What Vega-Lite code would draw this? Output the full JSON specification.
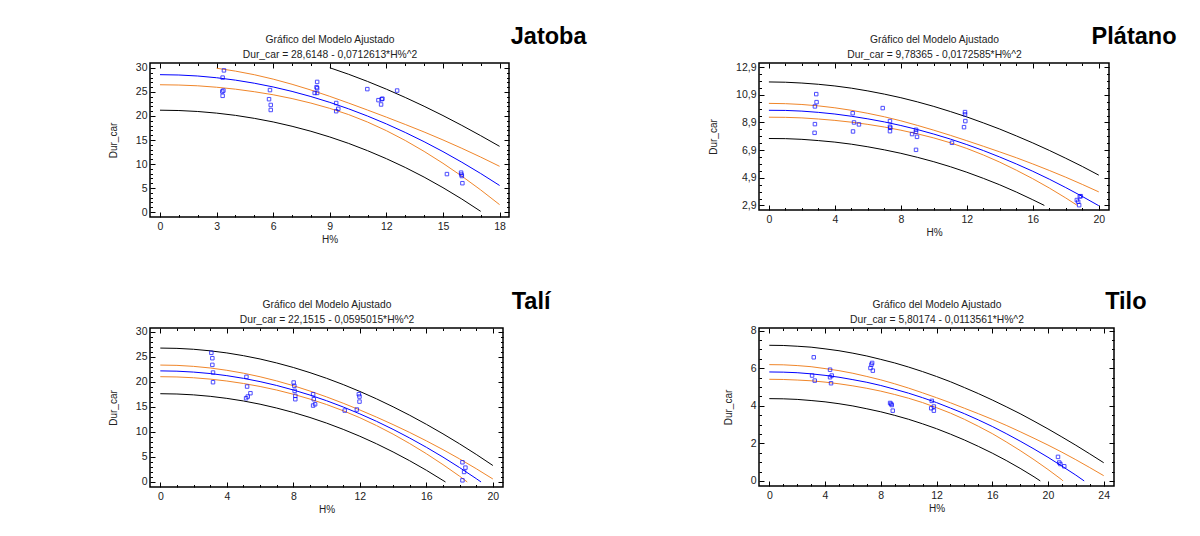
{
  "$schema": "https://vega.github.io/schema/vega-lite/v6.json",
  "background": "white",
  "padding": {"left": 107, "top": 24, "right": 0, "bottom": 0},
  "columns": 2,
  "bounds": "flush",
  "align": "each",
  "spacing": {"row": 111, "column": 250},
  "config": {
    "font": "Liberation Sans",
    "view": {"stroke": "#000", "strokeWidth": 1.5},
    "axis": {"domain": false, "grid": false, "labelFont": "Liberation Sans", "labelFontSize": 10.5, "labelColor": "#222", "titleFont": "Liberation Sans", "titleFontSize": 10, "titleFontWeight": "normal", "titleColor": "#222", "tickColor": "#000", "tickWidth": 1},
    "axisBottom": {"labelPadding": 9, "titlePadding": 3},
    "axisLeft": {"labelPadding": 8, "titlePadding": 17},
    "axisTop": {"labels": false, "titlePadding": 3, "titleFontSize": 10.3, "titleLineHeight": 15},
    "axisRight": {"labels": false, "title": null},
    "title": {"font": "Liberation Sans", "color": "#000", "fontSize": 23.5, "fontWeight": "bold", "anchor": "end", "baseline": "alphabetic", "offset": 0},
    "line": {"strokeWidth": 1, "clip": true},
    "point": {"shape": "square", "filled": false, "size": 12, "strokeWidth": 1, "color": "#0000ff"}
  },
  "datasets": {
    "jatoba_lines": [
      {"x": 0, "fit": 28.61, "cl": 26.51, "pl": 21.21},
      {"x": 1, "fit": 28.54, "cl": 26.45, "pl": 21.14},
      {"x": 2, "fit": 28.33, "cl": 26.29, "pl": 20.94},
      {"x": 3, "fit": 27.97, "cu": 29.95, "cl": 25.99, "pl": 20.6},
      {"x": 4, "fit": 27.47, "cu": 29.35, "cl": 25.59, "pl": 20.13},
      {"x": 5, "fit": 26.83, "cu": 28.6, "cl": 25.06, "pl": 19.51},
      {"x": 6, "fit": 26.05, "cu": 27.68, "cl": 24.42, "pl": 18.76},
      {"x": 7, "fit": 25.12, "cu": 26.61, "cl": 23.63, "pl": 17.86},
      {"x": 8, "fit": 24.05, "cu": 25.41, "cl": 22.69, "pl": 16.82},
      {"x": 9, "fit": 22.84, "cu": 24.09, "cl": 21.59, "pu": 30.05, "pl": 15.63},
      {"x": 10, "fit": 21.49, "cu": 22.69, "cl": 20.29, "pu": 28.69, "pl": 14.29},
      {"x": 11, "fit": 19.99, "cu": 21.24, "cl": 18.74, "pu": 27.2, "pl": 12.78},
      {"x": 12, "fit": 18.35, "cu": 19.76, "cl": 16.94, "pu": 25.59, "pl": 11.11},
      {"x": 13, "fit": 16.57, "cu": 18.24, "cl": 14.9, "pu": 23.86, "pl": 9.28},
      {"x": 14, "fit": 14.65, "cu": 16.67, "cl": 12.63, "pu": 22.03, "pl": 7.27},
      {"x": 15, "fit": 12.58, "cu": 15.01, "cl": 10.15, "pu": 20.09, "pl": 5.07},
      {"x": 16, "fit": 10.37, "cu": 13.27, "cl": 7.47, "pu": 18.04, "pl": 2.7},
      {"x": 17, "fit": 8.02, "cu": 11.44, "cl": 4.6, "pu": 15.9, "pl": 0.14},
      {"x": 18, "fit": 5.53, "cu": 9.52, "cl": 1.54, "pu": 13.68}
    ],
    "jatoba_pts": [
      {"x": 3.39, "y": 29.5}, {"x": 3.32, "y": 28.0}, {"x": 3.3, "y": 25.1}, {"x": 3.36, "y": 25.3}, {"x": 3.32, "y": 24.2},
      {"x": 5.83, "y": 25.4}, {"x": 5.78, "y": 23.5}, {"x": 5.87, "y": 22.3}, {"x": 5.87, "y": 21.25},
      {"x": 8.33, "y": 27.1}, {"x": 8.3, "y": 26.0}, {"x": 8.33, "y": 25.8}, {"x": 8.2, "y": 24.8}, {"x": 8.33, "y": 24.8},
      {"x": 9.34, "y": 22.7}, {"x": 9.34, "y": 21.0}, {"x": 9.45, "y": 21.5},
      {"x": 10.99, "y": 25.6}, {"x": 11.58, "y": 23.3}, {"x": 11.72, "y": 22.4}, {"x": 11.79, "y": 23.6}, {"x": 11.75, "y": 23.5},
      {"x": 12.57, "y": 25.3},
      {"x": 15.21, "y": 7.9}, {"x": 15.96, "y": 8.2}, {"x": 16.0, "y": 7.5}, {"x": 15.98, "y": 7.8}, {"x": 16.03, "y": 6.0}
    ],
    "platano_lines": [
      {"x": 0, "fit": 9.78, "cu": 10.28, "cl": 9.28, "pu": 11.83, "pl": 7.74},
      {"x": 1, "fit": 9.77, "cu": 10.26, "cl": 9.27, "pu": 11.81, "pl": 7.73},
      {"x": 2, "fit": 9.72, "cu": 10.2, "cl": 9.23, "pu": 11.75, "pl": 7.68},
      {"x": 3, "fit": 9.63, "cu": 10.1, "cl": 9.15, "pu": 11.66, "pl": 7.59},
      {"x": 4, "fit": 9.51, "cu": 9.96, "cl": 9.05, "pu": 11.54, "pl": 7.48},
      {"x": 5, "fit": 9.35, "cu": 9.78, "cl": 8.92, "pu": 11.38, "pl": 7.33},
      {"x": 6, "fit": 9.16, "cu": 9.56, "cl": 8.76, "pu": 11.18, "pl": 7.14},
      {"x": 7, "fit": 8.94, "cu": 9.31, "cl": 8.57, "pu": 10.95, "pl": 6.92},
      {"x": 8, "fit": 8.68, "cu": 9.02, "cl": 8.34, "pu": 10.69, "pl": 6.67},
      {"x": 9, "fit": 8.39, "cu": 8.69, "cl": 8.08, "pu": 10.39, "pl": 6.38},
      {"x": 10, "fit": 8.06, "cu": 8.34, "cl": 7.78, "pu": 10.06, "pl": 6.06},
      {"x": 11, "fit": 7.7, "cu": 7.97, "cl": 7.43, "pu": 9.69, "pl": 5.7},
      {"x": 12, "fit": 7.3, "cu": 7.58, "cl": 7.02, "pu": 9.3, "pl": 5.3},
      {"x": 13, "fit": 6.87, "cu": 7.18, "cl": 6.55, "pu": 8.87, "pl": 4.86},
      {"x": 14, "fit": 6.4, "cu": 6.77, "cl": 6.03, "pu": 8.42, "pl": 4.39},
      {"x": 15, "fit": 5.9, "cu": 6.35, "cl": 5.45, "pu": 7.93, "pl": 3.87},
      {"x": 16, "fit": 5.37, "cu": 5.9, "cl": 4.83, "pu": 7.42, "pl": 3.31},
      {"x": 16.7, "pl": 2.9},
      {"x": 17, "fit": 4.8, "cu": 5.43, "cl": 4.16, "pu": 6.88},
      {"x": 18, "fit": 4.19, "cu": 4.94, "cl": 3.44, "pu": 6.31},
      {"x": 18.7, "cl": 2.9},
      {"x": 19, "fit": 3.55, "cu": 4.42, "pu": 5.72},
      {"x": 20, "fit": 2.88, "cu": 3.88, "pu": 5.09}
    ],
    "platano_pts": [
      {"x": 2.87, "y": 10.95}, {"x": 2.89, "y": 10.37}, {"x": 2.79, "y": 10.06}, {"x": 2.79, "y": 8.78}, {"x": 2.77, "y": 8.15},
      {"x": 5.08, "y": 9.57}, {"x": 5.16, "y": 8.9}, {"x": 5.46, "y": 8.76}, {"x": 5.1, "y": 8.25},
      {"x": 6.9, "y": 9.94}, {"x": 7.34, "y": 9.0}, {"x": 7.34, "y": 8.59}, {"x": 7.36, "y": 8.51}, {"x": 7.34, "y": 8.27},
      {"x": 8.68, "y": 8.06}, {"x": 8.92, "y": 8.37}, {"x": 8.92, "y": 8.22}, {"x": 8.98, "y": 7.86}, {"x": 8.92, "y": 6.92},
      {"x": 11.1, "y": 7.43}, {"x": 11.89, "y": 9.65}, {"x": 11.89, "y": 9.48}, {"x": 11.91, "y": 9.0}, {"x": 11.83, "y": 8.56},
      {"x": 18.67, "y": 3.29}, {"x": 18.75, "y": 3.17}, {"x": 18.81, "y": 2.92}, {"x": 18.85, "y": 3.55}, {"x": 18.91, "y": 3.57}
    ],
    "tali_lines": [
      {"x": 0, "fit": 22.15, "cu": 23.31, "cl": 20.99, "pu": 26.7, "pl": 17.6},
      {"x": 1, "fit": 22.09, "cu": 23.25, "cl": 20.94, "pu": 26.64, "pl": 17.54},
      {"x": 2, "fit": 21.91, "cu": 23.05, "cl": 20.78, "pu": 26.46, "pl": 17.37},
      {"x": 3, "fit": 21.62, "cu": 22.73, "cl": 20.51, "pu": 26.15, "pl": 17.08},
      {"x": 4, "fit": 21.2, "cu": 22.27, "cl": 20.13, "pu": 25.73, "pl": 16.67},
      {"x": 5, "fit": 20.66, "cu": 21.69, "cl": 19.64, "pu": 25.18, "pl": 16.15},
      {"x": 6, "fit": 20.01, "cu": 20.98, "cl": 19.04, "pu": 24.52, "pl": 15.51},
      {"x": 7, "fit": 19.24, "cu": 20.15, "cl": 18.33, "pu": 23.73, "pl": 14.74},
      {"x": 8, "fit": 18.34, "cu": 19.2, "cl": 17.49, "pu": 22.83, "pl": 13.86},
      {"x": 9, "fit": 17.33, "cu": 18.13, "cl": 16.53, "pu": 21.8, "pl": 12.86},
      {"x": 10, "fit": 16.2, "cu": 16.96, "cl": 15.44, "pu": 20.67, "pl": 11.74},
      {"x": 11, "fit": 14.95, "cu": 15.7, "cl": 14.2, "pu": 19.42, "pl": 10.49},
      {"x": 12, "fit": 13.58, "cu": 14.36, "cl": 12.81, "pu": 18.05, "pl": 9.12},
      {"x": 13, "fit": 12.1, "cu": 12.94, "cl": 11.25, "pu": 16.58, "pl": 7.62},
      {"x": 14, "fit": 10.49, "cu": 11.44, "cl": 9.54, "pu": 14.99, "pl": 5.99},
      {"x": 15, "fit": 8.76, "cu": 9.87, "cl": 7.66, "pu": 13.3, "pl": 4.23},
      {"x": 16, "fit": 6.92, "cu": 8.2, "cl": 5.64, "pu": 11.5, "pl": 2.34},
      {"x": 17, "fit": 4.96, "cu": 6.45, "cl": 3.46, "pu": 9.6, "pl": 0.31},
      {"x": 17.15, "pl": 0},
      {"x": 18, "fit": 2.87, "cu": 4.6, "cl": 1.15, "pu": 7.6},
      {"x": 18.46, "cl": 0},
      {"x": 19, "fit": 0.67, "cu": 2.65, "pu": 5.5},
      {"x": 19.29, "fit": 0},
      {"x": 20, "cu": 0.6, "pu": 3.29}
    ],
    "tali_pts": [
      {"x": 3.07, "y": 25.75}, {"x": 3.13, "y": 24.68}, {"x": 3.13, "y": 23.35}, {"x": 3.17, "y": 21.82}, {"x": 3.17, "y": 19.89},
      {"x": 5.18, "y": 20.96}, {"x": 5.22, "y": 19.03}, {"x": 5.16, "y": 16.7}, {"x": 5.26, "y": 17.03}, {"x": 5.42, "y": 17.7},
      {"x": 8.02, "y": 19.83}, {"x": 8.06, "y": 19.16}, {"x": 8.08, "y": 18.16}, {"x": 8.12, "y": 17.17}, {"x": 8.12, "y": 16.5},
      {"x": 9.19, "y": 17.5}, {"x": 9.23, "y": 16.5}, {"x": 9.19, "y": 15.24}, {"x": 9.31, "y": 15.5},
      {"x": 11.09, "y": 14.24}, {"x": 11.82, "y": 14.44}, {"x": 11.94, "y": 17.5}, {"x": 11.98, "y": 17.03}, {"x": 11.98, "y": 16.03},
      {"x": 18.17, "y": 3.93}, {"x": 18.35, "y": 2.86}, {"x": 18.27, "y": 2.0}, {"x": 18.17, "y": 0.33}
    ],
    "tilo_lines": [
      {"x": 0, "fit": 5.8, "cu": 6.19, "cl": 5.41, "pu": 7.22, "pl": 4.38},
      {"x": 1, "fit": 5.79, "cu": 6.18, "cl": 5.4, "pu": 7.21, "pl": 4.37},
      {"x": 2, "fit": 5.76, "cu": 6.14, "cl": 5.37, "pu": 7.17, "pl": 4.34},
      {"x": 3, "fit": 5.7, "cu": 6.08, "cl": 5.33, "pu": 7.12, "pl": 4.28},
      {"x": 4, "fit": 5.62, "cu": 5.98, "cl": 5.26, "pu": 7.03, "pl": 4.21},
      {"x": 5, "fit": 5.52, "cu": 5.87, "cl": 5.17, "pu": 6.93, "pl": 4.11},
      {"x": 6, "fit": 5.39, "cu": 5.73, "cl": 5.06, "pu": 6.8, "pl": 3.99},
      {"x": 7, "fit": 5.25, "cu": 5.56, "cl": 4.93, "pu": 6.65, "pl": 3.84},
      {"x": 8, "fit": 5.08, "cu": 5.38, "cl": 4.78, "pu": 6.47, "pl": 3.68},
      {"x": 9, "fit": 4.88, "cu": 5.17, "cl": 4.6, "pu": 6.28, "pl": 3.49},
      {"x": 10, "fit": 4.67, "cu": 4.94, "cl": 4.4, "pu": 6.06, "pl": 3.28},
      {"x": 11, "fit": 4.43, "cu": 4.69, "cl": 4.17, "pu": 5.82, "pl": 3.04},
      {"x": 12, "fit": 4.17, "cu": 4.43, "cl": 3.9, "pu": 5.56, "pl": 2.78},
      {"x": 13, "fit": 3.88, "cu": 4.16, "cl": 3.61, "pu": 5.28, "pl": 2.49},
      {"x": 14, "fit": 3.58, "cu": 3.87, "cl": 3.28, "pu": 4.97, "pl": 2.18},
      {"x": 15, "fit": 3.25, "cu": 3.58, "cl": 2.91, "pu": 4.65, "pl": 1.84},
      {"x": 16, "fit": 2.9, "cu": 3.28, "cl": 2.52, "pu": 4.31, "pl": 1.48},
      {"x": 17, "fit": 2.52, "cu": 2.96, "cl": 2.08, "pu": 3.95, "pl": 1.09},
      {"x": 18, "fit": 2.12, "cu": 2.62, "cl": 1.62, "pu": 3.58, "pl": 0.67},
      {"x": 19, "fit": 1.7, "cu": 2.27, "cl": 1.13, "pu": 3.18, "pl": 0.22},
      {"x": 19.45, "pl": 0},
      {"x": 20, "fit": 1.26, "cu": 1.91, "cl": 0.61, "pu": 2.77},
      {"x": 21, "fit": 0.79, "cu": 1.53, "cl": 0.06, "pu": 2.34},
      {"x": 21.08, "cl": 0},
      {"x": 22, "fit": 0.31, "cu": 1.13, "pu": 1.9},
      {"x": 22.6, "fit": 0},
      {"x": 23, "cu": 0.71, "pu": 1.44},
      {"x": 24, "cu": 0.28, "pu": 0.97}
    ],
    "tilo_pts": [
      {"x": 3.19, "y": 6.58}, {"x": 3.07, "y": 5.61}, {"x": 3.26, "y": 5.34},
      {"x": 4.36, "y": 5.92}, {"x": 4.36, "y": 5.52}, {"x": 4.48, "y": 5.61}, {"x": 4.43, "y": 5.2},
      {"x": 7.38, "y": 6.28}, {"x": 7.33, "y": 6.19}, {"x": 7.26, "y": 6.01}, {"x": 7.43, "y": 5.87},
      {"x": 8.67, "y": 4.15}, {"x": 8.79, "y": 4.04}, {"x": 8.74, "y": 4.1}, {"x": 8.86, "y": 3.74},
      {"x": 11.66, "y": 4.26}, {"x": 11.62, "y": 3.87}, {"x": 11.81, "y": 3.96}, {"x": 11.81, "y": 3.74},
      {"x": 20.72, "y": 1.28}, {"x": 20.81, "y": 0.98}, {"x": 20.89, "y": 0.9}, {"x": 21.17, "y": 0.78}
    ]
  },
  "concat": [
    {
      "width": 359, "height": 154,
      "title": {"text": "Jatoba", "dx": 77, "dy": 18},
      "resolve": {"axis": {"x": "independent", "y": "independent"}},
      "layer": [
        {
          "data": {"name": "jatoba_lines"},
          "transform": [{"fold": ["pu", "cu", "fit", "cl", "pl"], "as": ["serie", "v"]}, {"filter": "isValid(datum.v)"}],
          "mark": "line",
          "encoding": {
            "x": {"field": "x", "type": "quantitative", "scale": {"domain": [-0.53, 18.5], "nice": false, "zero": false},
              "axis": {"orient": "bottom", "title": "H%", "values": [0,1,2,3,4,5,6,7,8,9,10,11,12,13,14,15,16,17,18],
                "tickSize": {"condition": {"test": "datum.value % 3 === 0", "value": -5}, "value": -2.5},
                "labelExpr": "datum.value % 3 === 0 ? format(datum.value, 'd') : ''"}},
            "y": {"field": "v", "type": "quantitative", "scale": {"domain": [-1.04, 31.04], "nice": false, "zero": false},
              "axis": {"orient": "left", "title": "Dur_car", "values": [0,1,2,3,4,5,6,7,8,9,10,11,12,13,14,15,16,17,18,19,20,21,22,23,24,25,26,27,28,29,30],
                "tickSize": {"condition": {"test": "datum.value % 5 === 0", "value": -5}, "value": -2.5},
                "labelExpr": "datum.value % 5 === 0 ? format(datum.value, 'd') : ''"}},
            "color": {"field": "serie", "type": "nominal", "legend": null,
              "scale": {"domain": ["fit", "cu", "cl", "pu", "pl"], "range": ["#0000ff", "#f0862a", "#f0862a", "#000000", "#000000"]}}
          }
        },
        {
          "data": {"name": "jatoba_pts"},
          "mark": "point",
          "encoding": {
            "x": {"field": "x", "type": "quantitative", "scale": {"domain": [-0.53, 18.5], "nice": false, "zero": false},
              "axis": {"orient": "top", "title": ["Gráfico del Modelo Ajustado", "Dur_car = 28,6148 - 0,0712613*H%^2"], "values": [0,1,2,3,4,5,6,7,8,9,10,11,12,13,14,15,16,17,18],
                "tickSize": {"condition": {"test": "datum.value % 3 === 0", "value": -5}, "value": -2.5}}},
            "y": {"field": "y", "type": "quantitative", "scale": {"domain": [-1.04, 31.04], "nice": false, "zero": false},
              "axis": {"orient": "right", "values": [0,1,2,3,4,5,6,7,8,9,10,11,12,13,14,15,16,17,18,19,20,21,22,23,24,25,26,27,28,29,30],
                "tickSize": {"condition": {"test": "datum.value % 5 === 0", "value": -5}, "value": -2.5}}}
          }
        }
      ]
    },
    {
      "width": 350, "height": 147,
      "title": {"text": "Plátano", "dx": 67, "dy": 18},
      "resolve": {"axis": {"x": "independent", "y": "independent"}},
      "layer": [
        {
          "data": {"name": "platano_lines"},
          "transform": [{"fold": ["pu", "cu", "fit", "cl", "pl"], "as": ["serie", "v"]}, {"filter": "isValid(datum.v)"}],
          "mark": "line",
          "encoding": {
            "x": {"field": "x", "type": "quantitative", "scale": {"domain": [-0.6, 20.62], "nice": false, "zero": false},
              "axis": {"orient": "bottom", "title": "H%", "values": [0,1,2,3,4,5,6,7,8,9,10,11,12,13,14,15,16,17,18,19,20],
                "tickSize": {"condition": {"test": "datum.value % 4 === 0", "value": -5}, "value": -2.5},
                "labelExpr": "datum.value % 4 === 0 ? format(datum.value, 'd') : ''"}},
            "y": {"field": "v", "type": "quantitative", "scale": {"domain": [2.57, 13.2], "nice": false, "zero": false},
              "axis": {"orient": "left", "title": "Dur_car", "values": [2.9,3.4,3.9,4.4,4.9,5.4,5.9,6.4,6.9,7.4,7.9,8.4,8.9,9.4,9.9,10.4,10.9,11.4,11.9,12.4,12.9],
                "tickSize": {"condition": {"test": "abs((datum.value - 2.9) / 2 - round((datum.value - 2.9) / 2)) < 0.01", "value": -5}, "value": -2.5},
                "labelExpr": "abs((datum.value - 2.9) / 2 - round((datum.value - 2.9) / 2)) < 0.01 ? replace(format(datum.value, '.1f'), '.', ',') : ''"}},
            "color": {"field": "serie", "type": "nominal", "legend": null,
              "scale": {"domain": ["fit", "cu", "cl", "pu", "pl"], "range": ["#0000ff", "#f0862a", "#f0862a", "#000000", "#000000"]}}
          }
        },
        {
          "data": {"name": "platano_pts"},
          "mark": "point",
          "encoding": {
            "x": {"field": "x", "type": "quantitative", "scale": {"domain": [-0.6, 20.62], "nice": false, "zero": false},
              "axis": {"orient": "top", "title": ["Gráfico del Modelo Ajustado", "Dur_car = 9,78365 - 0,0172585*H%^2"], "values": [0,1,2,3,4,5,6,7,8,9,10,11,12,13,14,15,16,17,18,19,20],
                "tickSize": {"condition": {"test": "datum.value % 4 === 0", "value": -5}, "value": -2.5}}},
            "y": {"field": "y", "type": "quantitative", "scale": {"domain": [2.57, 13.2], "nice": false, "zero": false},
              "axis": {"orient": "right", "values": [2.9,3.4,3.9,4.4,4.9,5.4,5.9,6.4,6.9,7.4,7.9,8.4,8.9,9.4,9.9,10.4,10.9,11.4,11.9,12.4,12.9],
                "tickSize": {"condition": {"test": "abs((datum.value - 2.9) / 2 - round((datum.value - 2.9) / 2)) < 0.01", "value": -5}, "value": -2.5}}}
          }
        }
      ]
    },
    {
      "width": 353, "height": 159,
      "title": {"text": "Talí", "dx": 47, "dy": 18},
      "resolve": {"axis": {"x": "independent", "y": "independent"}},
      "layer": [
        {
          "data": {"name": "tali_lines"},
          "transform": [{"fold": ["pu", "cu", "fit", "cl", "pl"], "as": ["serie", "v"]}, {"filter": "isValid(datum.v)"}],
          "mark": "line",
          "encoding": {
            "x": {"field": "x", "type": "quantitative", "scale": {"domain": [-0.62, 20.61], "nice": false, "zero": false},
              "axis": {"orient": "bottom", "title": "H%", "values": [0,1,2,3,4,5,6,7,8,9,10,11,12,13,14,15,16,17,18,19,20],
                "tickSize": {"condition": {"test": "datum.value % 4 === 0", "value": -5}, "value": -2.5},
                "labelExpr": "datum.value % 4 === 0 ? format(datum.value, 'd') : ''"}},
            "y": {"field": "v", "type": "quantitative", "scale": {"domain": [-1.0, 30.7], "nice": false, "zero": false},
              "axis": {"orient": "left", "title": "Dur_car", "values": [0,1,2,3,4,5,6,7,8,9,10,11,12,13,14,15,16,17,18,19,20,21,22,23,24,25,26,27,28,29,30],
                "tickSize": {"condition": {"test": "datum.value % 5 === 0", "value": -5}, "value": -2.5},
                "labelExpr": "datum.value % 5 === 0 ? format(datum.value, 'd') : ''"}},
            "color": {"field": "serie", "type": "nominal", "legend": null,
              "scale": {"domain": ["fit", "cu", "cl", "pu", "pl"], "range": ["#0000ff", "#f0862a", "#f0862a", "#000000", "#000000"]}}
          }
        },
        {
          "data": {"name": "tali_pts"},
          "mark": "point",
          "encoding": {
            "x": {"field": "x", "type": "quantitative", "scale": {"domain": [-0.62, 20.61], "nice": false, "zero": false},
              "axis": {"orient": "top", "title": ["Gráfico del Modelo Ajustado", "Dur_car = 22,1515 - 0,0595015*H%^2"], "values": [0,1,2,3,4,5,6,7,8,9,10,11,12,13,14,15,16,17,18,19,20],
                "tickSize": {"condition": {"test": "datum.value % 4 === 0", "value": -5}, "value": -2.5}}},
            "y": {"field": "y", "type": "quantitative", "scale": {"domain": [-1.0, 30.7], "nice": false, "zero": false},
              "axis": {"orient": "right", "values": [0,1,2,3,4,5,6,7,8,9,10,11,12,13,14,15,16,17,18,19,20,21,22,23,24,25,26,27,28,29,30],
                "tickSize": {"condition": {"test": "datum.value % 5 === 0", "value": -5}, "value": -2.5}}}
          }
        }
      ]
    },
    {
      "width": 355, "height": 158,
      "title": {"text": "Tilo", "dx": 32, "dy": 18},
      "resolve": {"axis": {"x": "independent", "y": "independent"}},
      "layer": [
        {
          "data": {"name": "tilo_lines"},
          "transform": [{"fold": ["pu", "cu", "fit", "cl", "pl"], "as": ["serie", "v"]}, {"filter": "isValid(datum.v)"}],
          "mark": "line",
          "encoding": {
            "x": {"field": "x", "type": "quantitative", "scale": {"domain": [-0.74, 24.74], "nice": false, "zero": false},
              "axis": {"orient": "bottom", "title": "H%", "values": [0,1,2,3,4,5,6,7,8,9,10,11,12,13,14,15,16,17,18,19,20,21,22,23,24],
                "tickSize": {"condition": {"test": "datum.value % 4 === 0", "value": -5}, "value": -2.5},
                "labelExpr": "datum.value % 4 === 0 ? format(datum.value, 'd') : ''"}},
            "y": {"field": "v", "type": "quantitative", "scale": {"domain": [-0.27, 8.14], "nice": false, "zero": false},
              "axis": {"orient": "left", "title": "Dur_car", "values": [0,0.5,1,1.5,2,2.5,3,3.5,4,4.5,5,5.5,6,6.5,7,7.5,8],
                "tickSize": {"condition": {"test": "datum.value % 2 === 0", "value": -5}, "value": -2.5},
                "labelExpr": "datum.value % 2 === 0 ? format(datum.value, 'd') : ''"}},
            "color": {"field": "serie", "type": "nominal", "legend": null,
              "scale": {"domain": ["fit", "cu", "cl", "pu", "pl"], "range": ["#0000ff", "#f0862a", "#f0862a", "#000000", "#000000"]}}
          }
        },
        {
          "data": {"name": "tilo_pts"},
          "mark": "point",
          "encoding": {
            "x": {"field": "x", "type": "quantitative", "scale": {"domain": [-0.74, 24.74], "nice": false, "zero": false},
              "axis": {"orient": "top", "title": ["Gráfico del Modelo Ajustado", "Dur_car = 5,80174 - 0,0113561*H%^2"], "values": [0,1,2,3,4,5,6,7,8,9,10,11,12,13,14,15,16,17,18,19,20,21,22,23,24],
                "tickSize": {"condition": {"test": "datum.value % 4 === 0", "value": -5}, "value": -2.5}}},
            "y": {"field": "y", "type": "quantitative", "scale": {"domain": [-0.27, 8.14], "nice": false, "zero": false},
              "axis": {"orient": "right", "values": [0,0.5,1,1.5,2,2.5,3,3.5,4,4.5,5,5.5,6,6.5,7,7.5,8],
                "tickSize": {"condition": {"test": "datum.value % 2 === 0", "value": -5}, "value": -2.5}}}
          }
        }
      ]
    }
  ]
}
